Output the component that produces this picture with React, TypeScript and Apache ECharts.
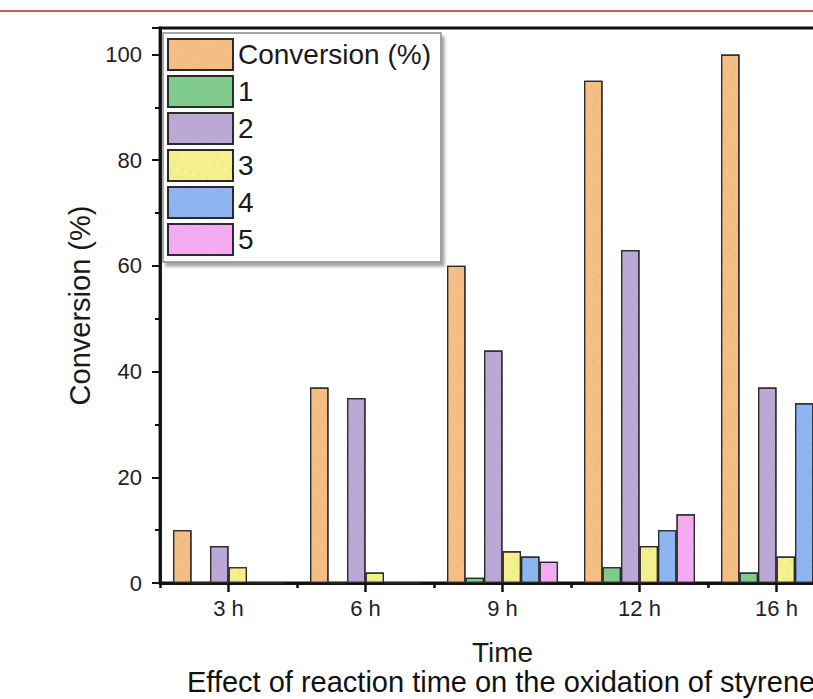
import React, { useEffect, useRef } from "react";
import * as echarts from "echarts";

const categories = ["3 h", "6 h", "9 h", "12 h", "16 h"];
const seriesNames = ["Conversion (%)", "1", "2", "3", "4", "5"];
const conversion = [10, 37, 60, 95, 100];
const s1 = [0, 0, 1, 3, 2];
const s2 = [7, 35, 44, 63, 37];
const s3 = [3, 2, 6, 7, 5];
const s4 = [0, 0, 5, 10, 34];
const s5 = [0, 0, 4, 13, 20];
const seriesValues = [conversion, s1, s2, s3, s4, s5];
const colors = ["#F5BE85", "#7FCC8C", "#BCA8D6", "#F4F08E", "#8DB5F0", "#F5ABF2"];
const yTicks = [0, 20, 40, 60, 80, 100];

const FONT = "Liberation Sans, Arial, Helvetica, sans-serif";

export default function App() {
  const ref = useRef<HTMLDivElement>(null);
  useEffect(() => {
    if (!ref.current) return;
    const chart = echarts.init(ref.current, null, { renderer: "svg" });
    chart.setOption({
      animation: false,
      backgroundColor: "#ffffff",
      textStyle: { fontFamily: FONT },
      grid: {
        left: 160,
        top: 28,
        width: 685,
        bottom: 116,
        show: true,
        borderColor: "#111",
        borderWidth: 2.8,
        containLabel: false,
        outerBoundsMode: "none",
      },
      legend: {
        orient: "vertical",
        left: 163,
        top: 33,
        data: seriesNames,
        icon: "rect",
        itemWidth: 65,
        itemHeight: 31,
        itemGap: 4,
        padding: [5, 10, 6, 4],
        backgroundColor: "#ffffff",
        borderColor: "#8a8a8a",
        borderWidth: 1.5,
        shadowColor: "rgba(0,0,0,0.35)",
        shadowOffsetX: 3,
        shadowOffsetY: 4,
        shadowBlur: 3,
        textStyle: { fontSize: 28, color: "#1a1a1a", fontFamily: FONT },
      },
      xAxis: [
        {
          type: "category",
          data: categories,
          position: "bottom",
          name: "Time",
          nameLocation: "middle",
          nameGap: 56,
          nameTextStyle: { fontSize: 28, lineHeight: 26, color: "#1a1a1a", fontFamily: FONT },
          axisLine: { show: true, lineStyle: { color: "#111", width: 2.8 } },
          axisTick: { show: true, alignWithLabel: true, length: 9, lineStyle: { color: "#111", width: 2.5 } },
          axisLabel: { fontSize: 22, color: "#222", margin: 14, fontFamily: FONT },
          splitLine: { show: false },
        },
        {
          type: "category",
          data: categories,
          position: "bottom",
          axisLine: { show: false },
          axisTick: { show: true, length: 5, lineStyle: { color: "#111", width: 2.5 } },
          axisLabel: { show: false },
          splitLine: { show: false },
        },
      ],
      yAxis: {
        type: "value",
        min: 0,
        max: 105,
        interval: 20,
        name: "Conversion (%)",
        nameLocation: "middle",
        nameGap: 63,
        nameTextStyle: { fontSize: 29, color: "#1a1a1a", fontFamily: FONT },
        axisLine: { show: true, lineStyle: { color: "#111", width: 2.8 } },
        axisTick: { show: true, length: 8, lineStyle: { color: "#111", width: 2 } },
        minorTick: { show: true, splitNumber: 2, length: 5, lineStyle: { color: "#111", width: 2 } },
        axisLabel: {
          fontSize: 22,
          color: "#222",
          margin: 18,
          fontFamily: FONT,
          formatter: (v: number) => (yTicks.includes(v) ? String(v) : ""),
        },
        splitLine: { show: false },
      },
      series: seriesNames.map((name, i) => ({
        name,
        type: "bar",
        xAxisIndex: 0,
        data: seriesValues[i],
        barGap: "0%",
        barCategoryGap: "19%",
        itemStyle: {
          color: colors[i],
          borderColor: "#2b2b2b",
          borderWidth: 1.2,
          decal: {
            symbol: "circle",
            symbolSize: 0.25,
            color: "rgba(90,70,50,0.22)",
            dashArrayX: [5, 4],
            dashArrayY: [5, 4],
            rotation: 0.4,
          },
        },
      })),
      graphic: [
        {
          type: "line",
          shape: { x1: 0, y1: 11, x2: 813, y2: 11 },
          style: { stroke: "#cf5a5a", lineWidth: 2 },
          silent: true,
        },
        {
          type: "text",
          left: 187,
          top: 667,
          style: {
            text: "Effect of reaction time on the oxidation of styrene",
            fontSize: 29,
            lineHeight: 26,
            fontFamily: FONT,
            fill: "#111",
          },
          silent: true,
        },
      ],
    });
    return () => chart.dispose();
  }, []);
  return (
    <div
      ref={ref}
      style={{ position: "fixed", left: 0, top: 0, width: 813, height: 699, overflow: "hidden", background: "#fff" }}
    />
  );
}
